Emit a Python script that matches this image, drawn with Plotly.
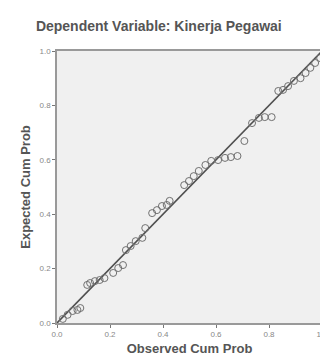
import plotly.graph_objects as go

observed = [0.022, 0.04, 0.059, 0.077, 0.088, 0.114, 0.125, 0.143, 0.161, 0.179,
            0.212, 0.231, 0.249, 0.26, 0.278, 0.297, 0.322, 0.333, 0.359, 0.377,
            0.396, 0.414, 0.425, 0.48, 0.498, 0.516, 0.535, 0.56, 0.582, 0.608,
            0.634, 0.656, 0.681, 0.707, 0.736, 0.762, 0.784, 0.81, 0.835, 0.853,
            0.872, 0.894, 0.919, 0.938, 0.956, 0.974, 0.993]
expected = [0.015, 0.03, 0.044, 0.048, 0.055, 0.14, 0.147, 0.154, 0.158, 0.165,
            0.184, 0.202, 0.213, 0.268, 0.283, 0.301, 0.313, 0.349, 0.404, 0.415,
            0.43, 0.434, 0.449, 0.507, 0.522, 0.54, 0.559, 0.581, 0.596, 0.599,
            0.607, 0.61, 0.614, 0.669, 0.735, 0.754, 0.757, 0.757, 0.853, 0.857,
            0.871, 0.89, 0.9, 0.919, 0.938, 0.956, 0.974]
ref_line = [0.0, 1.0]
tick_vals = [0.0, 0.2, 0.4, 0.6, 0.8, 1.0]
tick_text = ["0.0", "0.2", "0.4", "0.6", "0.8", "1.0"]

fig = go.Figure()
fig.add_trace(go.Scatter(x=ref_line, y=ref_line, mode="lines",
                         line=dict(color="#505050", width=1.6), hoverinfo="skip"))
fig.add_trace(go.Scatter(x=observed, y=expected, mode="markers",
                         marker=dict(symbol="circle-open", size=7,
                                     color="#707070", line=dict(width=1))))

axis_common = dict(range=[0, 1], tickvals=tick_vals, ticktext=tick_text,
                   showgrid=False, zeroline=False, ticks="outside", ticklen=3,
                   tickcolor="#777", showline=True, linecolor="#999", linewidth=1.5,
                   mirror=True, tickfont=dict(family="Liberation Sans", size=8, color="#888"))

fig.update_layout(
    width=328, height=361,
    margin=dict(l=49, r=8, t=43, b=46),
    paper_bgcolor="white", plot_bgcolor="#f0f0f0",
    showlegend=False,
    title=dict(text="<b>Dependent Variable: Kinerja Pegawai</b>",
               x=0.085, xanchor="left", y=0.95, yanchor="middle",
               font=dict(family="Liberation Sans", size=14, color="#555")),
    xaxis=dict(**axis_common,
               title=dict(text="<b>Observed Cum Prob</b>", standoff=6,
                          font=dict(family="Liberation Sans", size=13, color="#555"))),
    yaxis=dict(**axis_common,
               title=dict(text="<b>Expected Cum Prob</b>", standoff=6,
                          font=dict(family="Liberation Sans", size=13, color="#555"))),
)

fig.write_html("out.html")
